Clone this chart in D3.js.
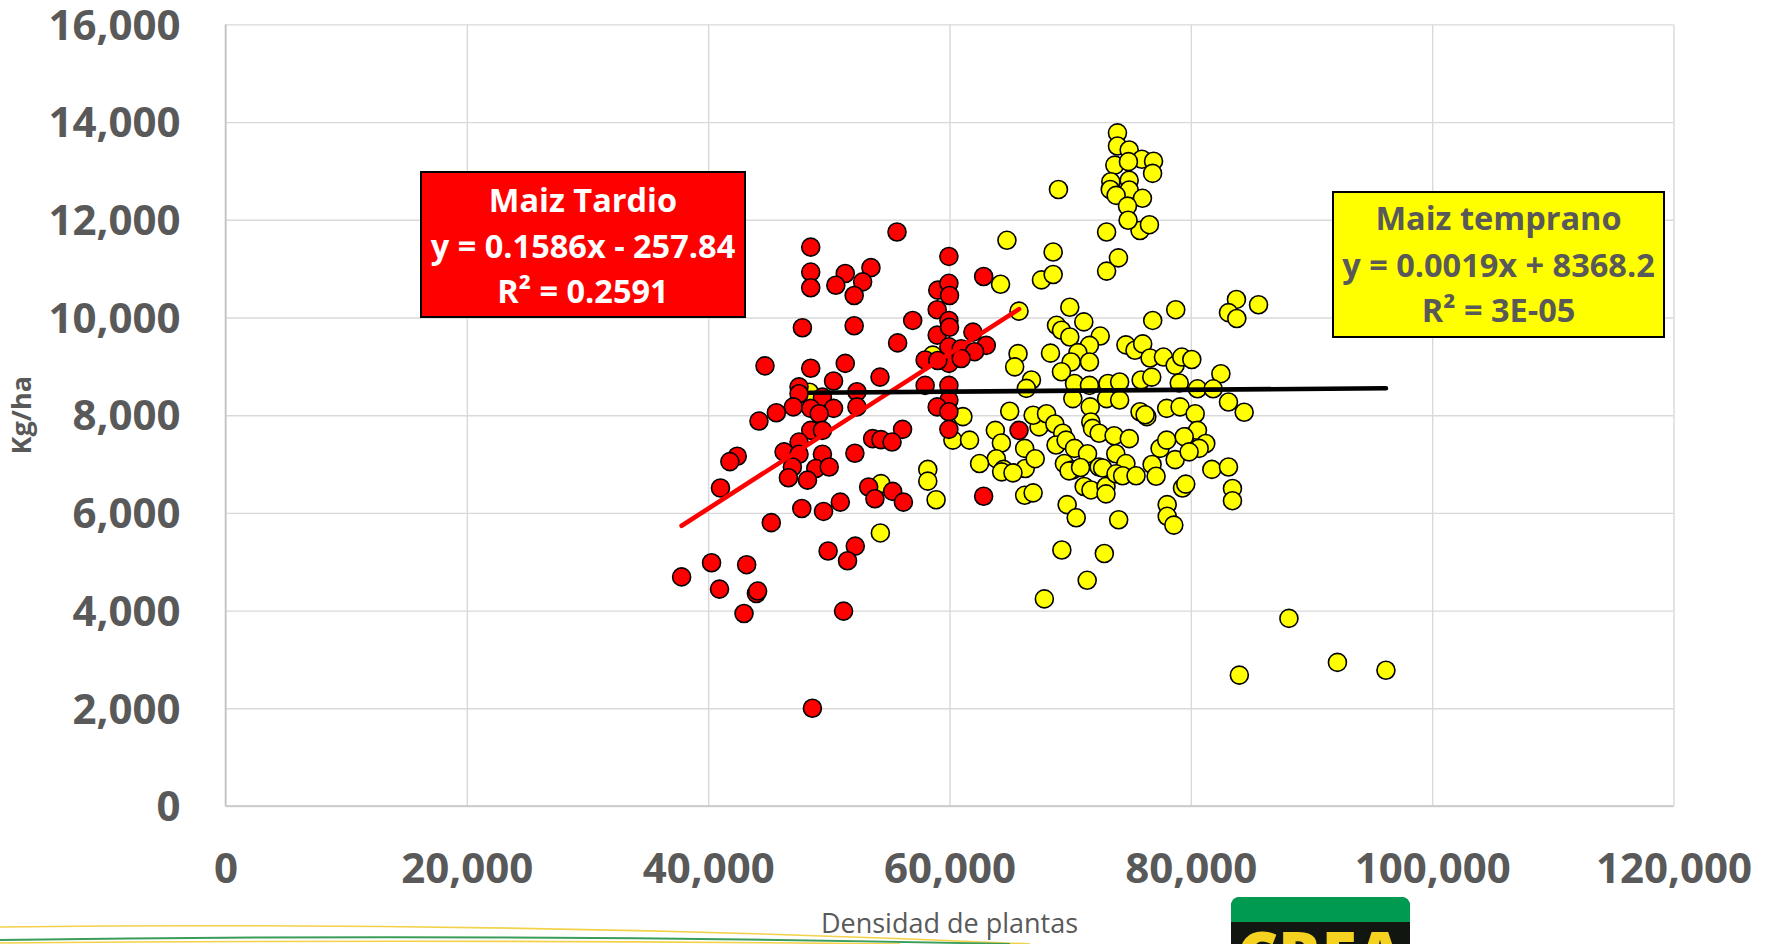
<!DOCTYPE html>
<html>
<head>
<meta charset="utf-8">
<script src="https://cdn.jsdelivr.net/npm/d3@7"></script>
<style>
  html, body { margin: 0; padding: 0; background: #fff; }
  svg { display: block; }
</style>
</head>
<body>
<svg id="chart" width="1768" height="944"></svg>
<script>
// Maiz tardio (red) - [plantas/ha, kg/ha]
const tardio = [
  [55650,11750],[48500,11440],[59950,11250],[48500,10930],[48500,10610],[51360,10900],[53490,11020],
  [50580,10660],[52800,10730],[52100,10450],[59030,10560],[59950,10700],[60000,10450],[56950,9940],
  [58980,10160],[47810,9790],[52100,9830],[55700,9480],[58980,9640],[59950,9940],[60000,9800],
  [59950,9400],[59950,9060],[57980,9130],[44710,9010],[48500,8960],[51360,9060],[50390,8700],
  [54240,8780],[47530,8580],[47530,8440],[49470,8370],[52330,8480],[57980,8610],[59950,8610],
  [59950,8310],[58980,8170],[59950,8070],[59950,7710],[47060,8170],[48500,8140],[50390,8140],
  [52330,8170],[45650,8050],[44210,7880],[49200,8030],[48500,7690],[49470,7690],[56110,7710],
  [53630,7520],[54320,7500],[55240,7450],[47530,7450],[46290,7250],[47530,7200],[49470,7200],
  [52160,7220],[42410,7160],[41800,7050],[46980,6940],[48920,6910],[50030,6940],[48230,6670],
  [62830,10840],[61940,9700],[63050,9430],[60970,9360],[62080,9300],[60970,9160],[59030,9120],
  [65760,7690],[62830,6340],
  [41020,6510],[46650,6720],[47760,6090],[49560,6030],[50950,6220],[45230,5800],[53300,6530],
  [53820,6290],[55290,6440],[56180,6220],[49940,5220],[52190,5320],[51550,5020],[40280,4980],
  [43190,4940],[37800,4690],[40940,4440],[44000,4350],[44100,4400],[42970,3940],[51220,3990],
  [48640,2000]
];

// Maiz temprano (yellow) - [plantas/ha, kg/ha]
const temprano = [
  [48390,8470],
  [58200,6890],[58200,6650],[58890,6270],[54270,5590],[54320,6600],[58610,9230],[60280,7490],
  [64760,11580],[68590,11340],[64230,10680],[67620,10770],[68590,10880],[73020,11750],[73020,10950],
  [74000,11220],[75790,11780],[76570,11900],[65760,10130],[69970,10210],[78750,10160],[76840,9940],
  [68870,9840],[69280,9740],[69970,9600],[71130,9910],[72490,9620],[71600,9430],[70640,9280],
  [71600,9090],[70080,9090],[74620,9440],[75370,9330],[76010,9460],[76620,9170],[77730,9190],
  [78700,9020],[79250,9190],[80080,9140],[65680,9260],[65400,8990],[68370,9270],[69280,8890],
  [66790,8720],[66370,8550],[70360,8650],[71600,8610],[73130,8650],[74100,8680],[75880,8720],
  [76760,8780],[79040,8660],[70220,8340],[73020,8340],[74100,8310],[71660,8170],[75790,8070],
  [76350,7970],[78000,8140],[79110,8170],[80360,8030],[64990,8080],[63800,7690],[64300,7430],
  [61660,7490],[61110,7970],[67420,7760],[66930,8000],[68040,8030],[68730,7820],[66230,7320],
  [63880,7110],[62490,7010],[64480,6890],[66280,6910],[67100,7110],[69380,7630],[68830,7390],
  [69660,7490],[70360,7320],[69520,7010],[70220,6880],[71710,7860],[71850,7730],[72400,7630],
  [71440,7210],[72400,6940],[73640,7580],[74900,7520],[73780,7210],[74620,7010],[76210,8010],
  [77450,7320],[78000,7490],[79530,7560],[78700,7090],
  [64320,6840],[65260,6820],[66230,6360],[66930,6410],[69910,6860],[70860,6930],[71160,6540],
  [71720,6470],[72690,6920],[72970,6540],[72970,6390],[73800,6800],[74350,6760],[75460,6760],
  [76790,6990],[77120,6750],[69750,6170],[70500,5900],[74020,5860],[78040,6170],[78040,5930],
  [78590,5750],[79310,6510],[79580,6590],[69310,5240],[72830,5170],[71410,4620],[67860,4240],
  [73920,13780],[73920,13510],[74890,13430],[75940,13240],[76910,13200],[76830,12950],[73700,13120],
  [74830,13190],[74890,12810],[73370,12780],[73320,12620],[74890,12610],[73810,12500],[75990,12440],
  [74750,12280],[74800,11990],[69030,12620],[83780,10370],[83120,10100],[83810,9980],[85610,10260],
  [82490,8850],[80550,8540],[81850,8540],[83120,8270],[84420,8060],[80550,7690],[79450,7560],
  [81240,7420],[80690,7320],[79860,7250],[81740,6890],[83120,6940],[83450,6500],[83450,6250],
  [88130,3840],[92150,2940],[96170,2780],[84020,2680]
];

// linear trend equations shown in the boxes
const trendTardio = { slope: 0.1586, intercept: -257.84 };
const trendTemprano = { slope: 0.0019, intercept: 8368.2 };

const xTicks = [0, 20000, 40000, 60000, 80000, 100000, 120000];
const yTicks = [0, 2000, 4000, 6000, 8000, 10000, 12000, 14000, 16000];

const labelTardio = ["Maiz Tardio", "y = 0.1586x - 257.84", "R² = 0.2591"];
const labelTemprano = ["Maiz temprano", "y = 0.0019x + 8368.2", "R² = 3E-05"];

const svg = d3.select("#chart");
const gray = "#595959";
const font = "'Open Sans', sans-serif";

const x = d3.scaleLinear().domain([0, 120000]).range([225.5, 1673.5]);
const y = d3.scaleLinear().domain([0, 16000]).range([806, 24.4]);
const fmt = d3.format(",");

// grid + y ticks
const gy = svg.append("g")
  .attr("transform", `translate(${x(0)},0)`)
  .call(d3.axisLeft(y).tickValues(yTicks).tickSize(-(x(120000) - x(0))).tickPadding(45).tickFormat(fmt));
gy.select(".domain").remove();
gy.selectAll(".tick line").attr("stroke", "#d9d9d9").attr("stroke-width", 1.4);
gy.selectAll(".tick text")
  .attr("fill", gray).attr("font-family", font).attr("font-weight", 700)
  .attr("font-size", 42).attr("dy", "0.35em");

const gx = svg.append("g")
  .attr("transform", `translate(0,${y(0)})`)
  .call(d3.axisBottom(x).tickValues(xTicks).tickSize(-(y(0) - y(16000))).tickPadding(47).tickFormat(fmt));
gx.select(".domain").remove();
gx.selectAll(".tick line").attr("stroke", "#d9d9d9").attr("stroke-width", 1.4);
gx.selectAll(".tick text")
  .attr("fill", gray).attr("font-family", font).attr("font-weight", 700)
  .attr("font-size", 42).attr("dy", "0.71em");

// axis lines
svg.append("line").attr("x1", x(0)).attr("x2", x(0)).attr("y1", y(16000)).attr("y2", y(0))
  .attr("stroke", "#c4c4c4").attr("stroke-width", 1.6);
svg.append("line").attr("x1", x(0)).attr("x2", x(120000)).attr("y1", y(0)).attr("y2", y(0))
  .attr("stroke", "#c4c4c4").attr("stroke-width", 1.6);

// axis titles
svg.append("text")
  .attr("transform", `translate(31,${y(8000)}) rotate(-90)`)
  .attr("text-anchor", "middle")
  .attr("fill", gray).attr("font-family", font).attr("font-weight", 700).attr("font-size", 27)
  .text("Kg/ha");
svg.append("text")
  .attr("x", (x(0) + x(120000)) / 2).attr("y", 933)
  .attr("text-anchor", "middle")
  .attr("fill", gray).attr("font-family", font).attr("font-size", 27)
  .text("Densidad de plantas");

// points (temprano first, tardio on top)
const drawPoints = (data, color) => svg.append("g").selectAll("circle")
  .data(data).join("circle")
  .attr("cx", d => x(d[0])).attr("cy", d => y(d[1])).attr("r", 9)
  .attr("fill", color).attr("stroke", "#000").attr("stroke-width", 1.6);
drawPoints(temprano, "#ffff00");
drawPoints(tardio, "#ff0000");

// trend lines over each series' x extent
const drawTrend = (data, t, color) => {
  const ext = d3.extent(data, d => d[0]);
  svg.append("path")
    .attr("d", d3.line()(ext.map(v => [x(v), y(t.slope * v + t.intercept)])))
    .attr("stroke", color).attr("stroke-width", 4.6).attr("stroke-linecap", "round").attr("fill", "none");
};
drawTrend(tardio, trendTardio, "#ff0000");
drawTrend(temprano, trendTemprano, "#000");

// equation boxes
const drawBox = (bx, by, bw, bh, fill, textFill, lines, baselines) => {
  const g = svg.append("g");
  g.append("rect").attr("x", bx).attr("y", by).attr("width", bw).attr("height", bh)
    .attr("fill", fill).attr("stroke", "#000").attr("stroke-width", 2);
  g.selectAll("text").data(lines).join("text")
    .attr("x", bx + bw / 2).attr("y", (d, i) => baselines[i])
    .attr("text-anchor", "middle")
    .attr("fill", textFill).attr("font-family", font).attr("font-weight", 700).attr("font-size", 32.5)
    .text(d => d);
};
drawBox(421, 172, 324, 145, "#ff0000", "#fff", labelTardio, [212, 258, 303]);
drawBox(1333, 192, 331, 145, "#ffff00", gray, labelTemprano, [230, 277, 322]);

// footer decoration (slide template)
const deco = svg.append("g").attr("fill", "none");
deco.append("path").attr("d", "M0,927 Q520,921 1030,944").attr("stroke", "#f3d24a").attr("stroke-width", 1.6);
deco.append("path").attr("d", "M0,940 Q500,933 1010,944").attr("stroke", "#3a9d5a").attr("stroke-width", 2);
deco.append("path").attr("d", "M0,943 Q450,939 900,944").attr("stroke", "#f3d24a").attr("stroke-width", 1.6);

// logo (cut by the bottom edge, as in the slide)
const logo = svg.append("g");
logo.append("rect").attr("x", 1231).attr("y", 897).attr("width", 179).attr("height", 70).attr("rx", 9)
  .attr("fill", "#111611");
logo.append("path").attr("d", "M1231,922 V906 Q1231,897 1240,897 H1401 Q1410,897 1410,906 V922 Z")
  .attr("fill", "#009a50");
logo.append("text").attr("x", 1320).attr("y", 978).attr("text-anchor", "middle")
  .attr("fill", "#f5d21f").attr("font-family", font).attr("font-weight", 800).attr("font-size", 64)
  .text("CREA");
</script>
</body>
</html>
